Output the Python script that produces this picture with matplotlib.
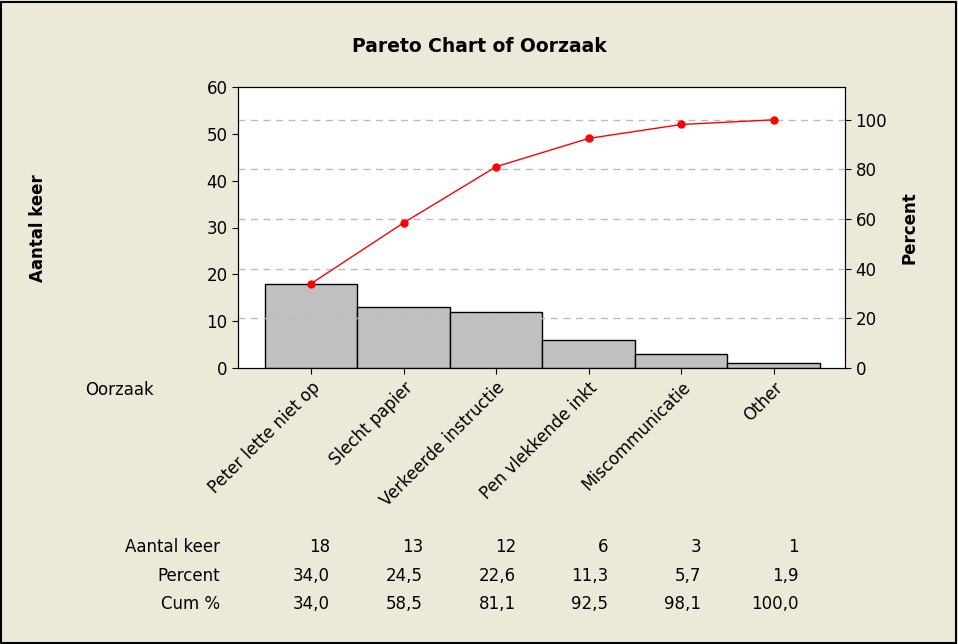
import matplotlib
matplotlib.use("Agg")
import matplotlib.pyplot as plt
from matplotlib.patches import Rectangle

categories = ["Peter lette niet op", "Slecht papier", "Verkeerde instructie",
              "Pen vlekkende inkt", "Miscommunicatie", "Other"]
counts = [18, 13, 12, 6, 3, 1]
percent = ["34,0", "24,5", "22,6", "11,3", "5,7", "1,9"]
cum_pct = [34.0, 58.5, 81.1, 92.5, 98.1, 100.0]
cum_lbl = ["34,0", "58,5", "81,1", "92,5", "98,1", "100,0"]

W, H = 958, 644
fig = plt.figure(figsize=(W/100, H/100), dpi=100, facecolor="#ECE9D8")
fig.patches.append(Rectangle((1/W, 1/H), 1-3/W, 1-3/H, transform=fig.transFigure,
                             fill=False, edgecolor="black", lw=1.5))
ax = fig.add_axes([238/W, 1-368/H, (845-238)/W, (368-87)/H])
ax.set_facecolor("white")
total = sum(counts)
x = list(range(len(categories)))
ax.bar(x, counts, width=1.0, color="#C0C0C0", edgecolor="black", lw=1, zorder=3)
ax.set_xlim(-0.79, 5.77)
ax.set_ylim(0, 60)
ax.set_yticks(range(0, 61, 10))
ax2 = ax.twinx()
ax2.set_ylim(0, 100 * 60 / total)
ax2.set_yticks(range(0, 101, 20))
for v in range(20, 101, 20):
    ax2.axhline(v, color="#BBBBBB", ls=(0, (5, 4)), lw=1, zorder=0)
ax2.plot(x, cum_pct, color="red", lw=1, marker="o", ms=5, zorder=4)
for a in (ax, ax2):
    a.tick_params(labelsize=12, length=4)
ax.set_xticks(x)
ax.set_xticklabels(categories, rotation=45, ha="right", rotation_mode="anchor", fontsize=12)
fig.text(38/W, 1-228/H, "Aantal keer", rotation=90, ha="center", va="center",
         fontsize=12, fontweight="bold")
ax2.set_ylabel("Percent", fontsize=12, fontweight="bold", labelpad=10)
fig.text(479/W, 1-47/H, "Pareto Chart of Oorzaak", ha="center", va="center",
         fontsize=13.5, fontweight="bold")
fig.text(85/W, 1-390/H, "Oorzaak", ha="left", va="center", fontsize=12)
rows = [("Aantal keer", [str(c) for c in counts], 547),
        ("Percent", percent, 576),
        ("Cum %", cum_lbl, 604)]
xpos = [330, 423, 516, 608, 701, 799]
for name, vals, y in rows:
    fig.text(220/W, 1-y/H, name, ha="right", va="center", fontsize=12)
    for xp, v in zip(xpos, vals):
        fig.text(xp/W, 1-y/H, v, ha="right", va="center", fontsize=12)
fig.savefig("out.png", dpi=100, facecolor=fig.get_facecolor())
